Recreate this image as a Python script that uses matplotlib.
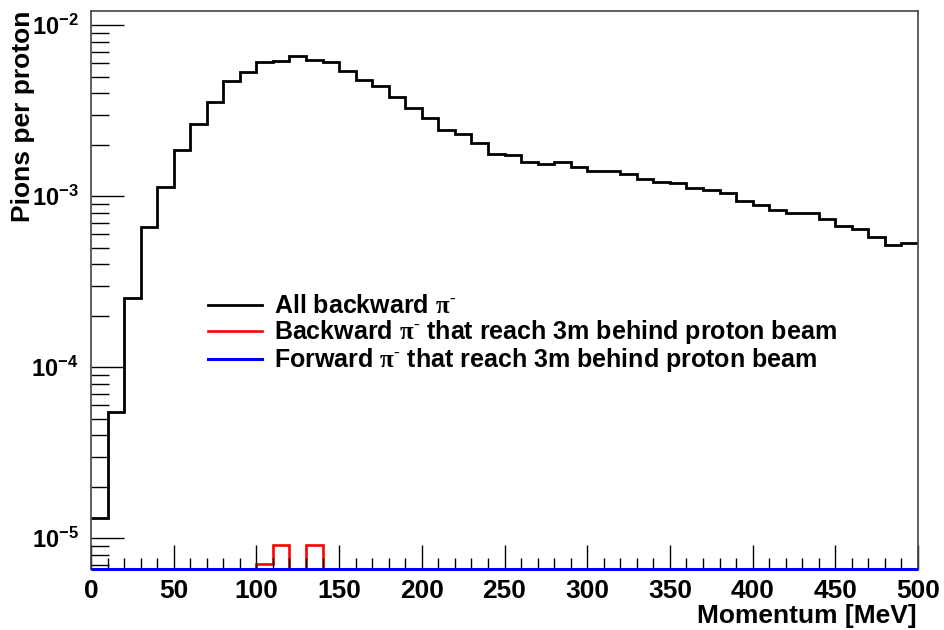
import numpy as np
import matplotlib
matplotlib.use("Agg")
import matplotlib.pyplot as plt
from matplotlib.ticker import FixedLocator, LogLocator, MultipleLocator

plt.rcParams['font.family'] = ['Liberation Sans', 'DejaVu Sans']
plt.rcParams['font.weight'] = 'bold'
plt.rcParams['mathtext.fontset'] = 'custom'
plt.rcParams['mathtext.rm'] = 'Liberation Serif'
plt.rcParams['mathtext.bf'] = 'Liberation Sans:bold'
plt.rcParams['mathtext.default'] = 'bf'

# momentum bins, 10 MeV wide
edges = np.arange(0, 510, 10)

all_backward = [1.31e-5, 5.5e-5, 2.53e-4, 6.64e-4, 1.13e-3, 1.87e-3, 2.65e-3, 3.57e-3,
                4.72e-3, 5.33e-3, 6.10e-3, 6.21e-3, 6.58e-3, 6.23e-3, 6.12e-3, 5.43e-3,
                4.79e-3, 4.43e-3, 3.82e-3, 3.30e-3, 2.86e-3, 2.44e-3, 2.31e-3, 2.06e-3,
                1.77e-3, 1.74e-3, 1.59e-3, 1.55e-3, 1.59e-3, 1.48e-3, 1.41e-3, 1.41e-3,
                1.35e-3, 1.26e-3, 1.21e-3, 1.19e-3, 1.11e-3, 1.08e-3, 1.05e-3, 9.35e-4,
                8.93e-4, 8.28e-4, 7.96e-4, 7.96e-4, 7.33e-4, 6.73e-4, 6.41e-4, 5.75e-4,
                5.21e-4, 5.31e-4]
backward_3m = [0]*10 + [7.08e-6, 9.14e-6, 0, 9.14e-6] + [0]*36
forward_3m = [0]*50

ymin, ymax = 6.59e-6, 1.217e-2

fig = plt.figure(figsize=(9.44, 6.3), dpi=100)
ax = fig.add_axes([0.0964, 0.0968, 0.8761, 0.8862])

pi = r'$\mathrm{\pi}^{\text{-}}$'
ax.stairs(np.maximum(all_backward, ymin), edges, baseline=None, color='black', lw=2.0,
          label='All backward ' + pi)
ax.stairs(np.maximum(backward_3m, ymin), edges, baseline=None, color='#ff0000', lw=1.9,
          clip_on=False, label='Backward ' + pi + ' that reach 3m behind proton beam')
ax.stairs(np.maximum(forward_3m, ymin), edges, baseline=None, color='#0000ff', lw=2.2,
          clip_on=False, zorder=3,
          label='Forward ' + pi + ' that reach 3m behind proton beam')

ax.set_yscale('log')
ax.set_xlim(0, 500)
ax.set_ylim(ymin, ymax)

ax.xaxis.set_major_locator(MultipleLocator(50))
ax.xaxis.set_minor_locator(MultipleLocator(10))
ax.yaxis.set_major_locator(FixedLocator([1e-5, 1e-4, 1e-3, 1e-2]))
ax.yaxis.set_minor_locator(LogLocator(base=10, subs=np.arange(2, 10)))
ax.set_yticklabels([r'$10^{-5}$', r'$10^{-4}$', r'$10^{-3}$', r'$10^{-2}$'])

ax.tick_params(axis='both', which='both', direction='in', top=False, right=False,
               width=1.0, color='black')
ax.tick_params(axis='y', which='major', length=24, labelsize=17, pad=9)
ax.tick_params(axis='y', which='minor', length=13)
ax.tick_params(axis='x', which='major', length=17, labelsize=19, pad=7)
ax.tick_params(axis='x', which='minor', length=8)
for s in ax.spines.values():
    s.set_color('#444444')
    s.set_linewidth(1.2)

ax.set_xlabel('Momentum [MeV]', fontsize=19, fontweight='bold', loc='right')
ax.set_ylabel('Pions per proton', fontsize=19, fontweight='bold', loc='top')
ax.xaxis.set_label_coords(0.998, -0.062)
ax.xaxis.label.set_va('top')
ax.yaxis.set_label_coords(-0.068, 1.0)

ax.legend(loc='upper left', bbox_to_anchor=(0.1415, 0.492), frameon=False, fontsize=18,
          handlelength=2.15, handletextpad=0.5, labelspacing=0.0, borderpad=0,
          borderaxespad=0)

fig.savefig('out.png', dpi=100)
